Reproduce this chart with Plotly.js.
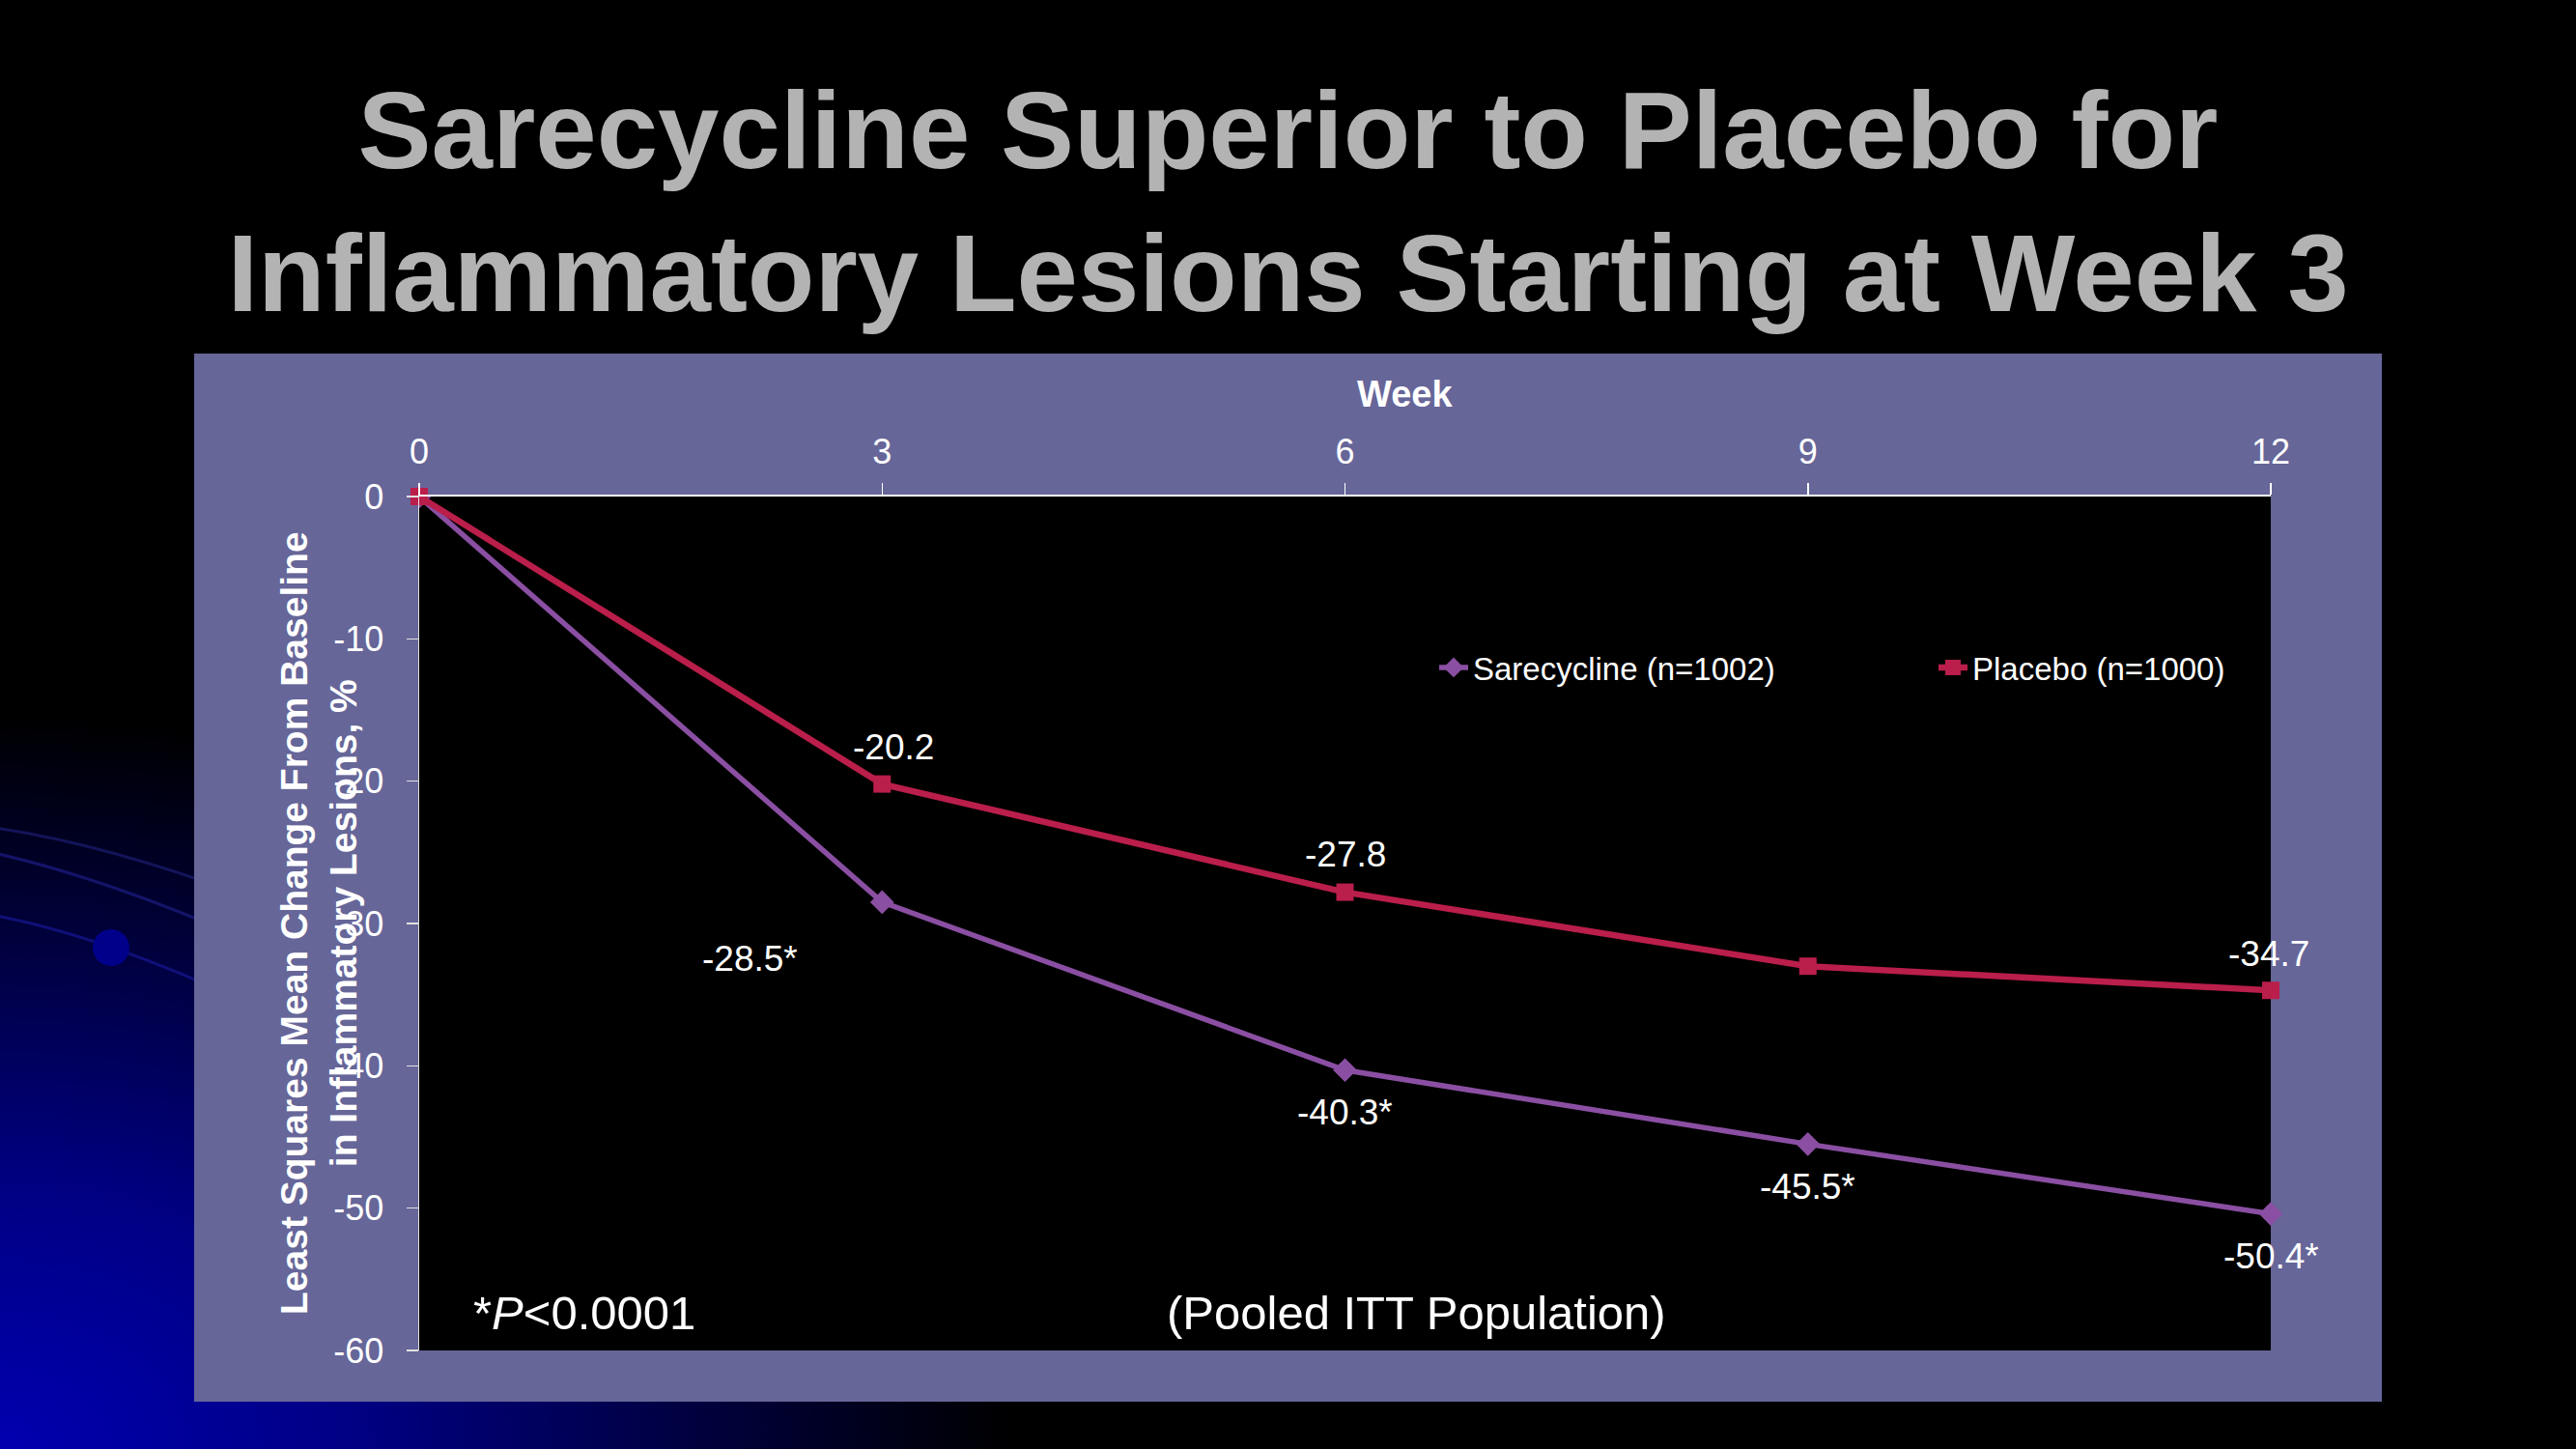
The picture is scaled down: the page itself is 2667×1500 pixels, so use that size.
<!DOCTYPE html>
<html>
<head>
<meta charset="utf-8">
<script src="https://cdn.plot.ly/plotly-3.0.1.min.js"></script>
<style>
  html, body { margin: 0; padding: 0; }
  body {
    width: 2667px; height: 1500px; overflow: hidden;
    background: radial-gradient(ellipse 1050px 760px at 0% 100%, #0000b0 0%, #000084 35%, #00003c 70%, #000 100%), #000;
  }
  #chart { width: 2667px; height: 1500px; }
</style>
</head>
<body>
<div id="chart"></div>
<script>
// values
var weeks = [0, 3, 6, 9, 12];
var sarecycline = [0, -28.5, -40.3, -45.5, -50.4];
var placebo = [0, -20.2, -27.8, -33.0, -34.7];
var sareLabels = ['', '-28.5*', '-40.3*', '-45.5*', '-50.4*'];
var placLabels = ['', '-20.2', '-27.8', '', '-34.7'];
var yTicks = [0, -10, -20, -30, -40, -50, -60];
var yTickText = ['0', '-10', '-20', '-30', '-40', '-50', '-60'];

var FONT = 'Liberation Sans, Arial, sans-serif';
var PURPLE = '#8A4FA2';
var RED = '#BA1E4A';

// label offsets in px (style, not data)
var sareShift = [[0, 0], [-137, -59], [0, -44], [0, -44], [0, -44]];
var placShift = [[0, 0], [12, 38], [0, 39], [0, 0], [-2, 38]];

var sare = {
  x: weeks, y: sarecycline,
  type: 'scatter', mode: 'lines+markers',
  name: 'Sarecycline (n=1002)',
  line: { color: PURPLE, width: 5.5 },
  marker: { symbol: 'diamond', size: 19, color: PURPLE },
  cliponaxis: false
};
var plac = {
  x: weeks, y: placebo,
  type: 'scatter', mode: 'lines+markers',
  name: 'Placebo (n=1000)',
  line: { color: RED, width: 6.5 },
  marker: { symbol: 'square', size: 18, color: RED },
  cliponaxis: false
};

function labelNotes(xs, ys, texts, shifts) {
  var out = [];
  for (var i = 0; i < xs.length; i++) {
    if (!texts[i]) continue;
    out.push({
      x: xs[i], y: ys[i], xref: 'x', yref: 'y',
      text: texts[i], showarrow: false,
      xshift: shifts[i][0], yshift: shifts[i][1],
      font: { family: FONT, size: 37, color: '#fff' }
    });
  }
  return out;
}

// pixel -> paper helpers (plot area 434..2351 x 514..1398)
function px(v) { return (v - 434) / 1917; }
function py(v) { return (1398 - v) / 884; }

var notes = labelNotes(weeks, sarecycline, sareLabels, sareShift)
  .concat(labelNotes(weeks, placebo, placLabels, placShift));

notes.push({
  x: px(1454), y: py(408), xref: 'paper', yref: 'paper',
  xanchor: 'center', yanchor: 'middle',
  text: 'Week', showarrow: false,
  font: { family: FONT, size: 38, color: '#fff', weight: 'bold' }
});
notes.push({
  x: px(330), y: 0.5, xref: 'paper', yref: 'paper',
  xanchor: 'center', yanchor: 'middle', textangle: -90,
  text: 'Least Squares Mean Change From Baseline<br>in Inflammatory Lesions, %',
  showarrow: false,
  font: { family: FONT, size: 39, color: '#fff', weight: 'bold' }
});
notes.push({
  x: px(488), y: py(1359), xref: 'paper', yref: 'paper',
  xanchor: 'left', yanchor: 'middle',
  text: '*<i>P</i>&lt;0.0001', showarrow: false,
  font: { family: FONT, size: 49, color: '#fff' }
});
notes.push({
  x: px(1466), y: py(1359), xref: 'paper', yref: 'paper',
  xanchor: 'center', yanchor: 'middle',
  text: '(Pooled ITT Population)', showarrow: false,
  font: { family: FONT, size: 49, color: '#fff' }
});

function curve(x0, y0, cx, cy, x1, y1) {
  return 'M ' + px(x0) + ',' + py(y0) + ' Q ' + px(cx) + ',' + py(cy) + ' ' + px(x1) + ',' + py(y1);
}

var shapes = [
  { type: 'path', xref: 'paper', yref: 'paper', layer: 'below', path: curve(-20, 855, 100, 870, 260, 930), line: { color: '#14145a', width: 3 } },
  { type: 'path', xref: 'paper', yref: 'paper', layer: 'below', path: curve(-20, 880, 100, 905, 260, 975), line: { color: '#14146a', width: 3 } },
  { type: 'path', xref: 'paper', yref: 'paper', layer: 'below', path: curve(-20, 945, 100, 965, 260, 1040), line: { color: '#10107a', width: 3 } },
  { type: 'circle', xref: 'paper', yref: 'paper', layer: 'below', x0: px(96), x1: px(134), y0: py(1000), y1: py(962), fillcolor: '#00008a', line: { width: 0 } },
  // purple chart panel
  { type: 'rect', xref: 'paper', yref: 'paper', layer: 'below', x0: px(201), x1: px(2466), y0: py(1451), y1: py(366), fillcolor: '#666699', line: { width: 0 } },
  // black plot area
  { type: 'rect', xref: 'paper', yref: 'paper', layer: 'below', x0: 0, x1: 1, y0: 0, y1: 1, fillcolor: '#000', line: { width: 0 } }
];

var layout = {
  width: 2667, height: 1500,
  margin: { l: 434, r: 316, t: 514, b: 102 },
  paper_bgcolor: 'rgba(0,0,0,0)',
  plot_bgcolor: '#000',
  font: { family: FONT, color: '#fff' },
  title: {
    text: 'Sarecycline Superior to Placebo for<br>Inflammatory Lesions Starting at Week 3',
    font: { family: FONT, size: 114, color: '#b3b3b3', weight: 'bold' },
    x: 0.5, xref: 'container', xanchor: 'center',
    y: 1 - 174 / 1500, yref: 'container', yanchor: 'middle'
  },
  xaxis: {
    range: [0, 12], side: 'top',
    tickvals: weeks, ticktext: weeks.map(String),
    showline: true, linecolor: '#fff', linewidth: 2,
    ticks: 'outside', ticklen: 12, tickwidth: 1.5, tickcolor: '#fff',
    tickfont: { size: 36, color: '#fff' },
    ticklabelstandoff: 6,
    showgrid: false, zeroline: false
  },
  yaxis: {
    range: [-60, 0],
    tickvals: yTicks, ticktext: yTickText,
    showline: true, linecolor: '#e0e0e0', linewidth: 1.5,
    ticks: 'outside', ticklen: 12, tickwidth: 1.5, tickcolor: '#e0e0e0',
    tickfont: { size: 36, color: '#fff' },
    ticklabelstandoff: 16,
    showgrid: false, zeroline: false
  },
  showlegend: true,
  legend: {
    orientation: 'h',
    x: px(1485), xanchor: 'left',
    y: py(691), yanchor: 'middle',
    bgcolor: 'rgba(0,0,0,0)',
    font: { size: 33, color: '#fff' },
    entrywidth: 472, entrywidthmode: 'pixels'
  },
  annotations: notes,
  shapes: shapes
};

Plotly.newPlot('chart', [sare, plac], layout, { displayModeBar: false, staticPlot: true });
</script>
</body>
</html>
